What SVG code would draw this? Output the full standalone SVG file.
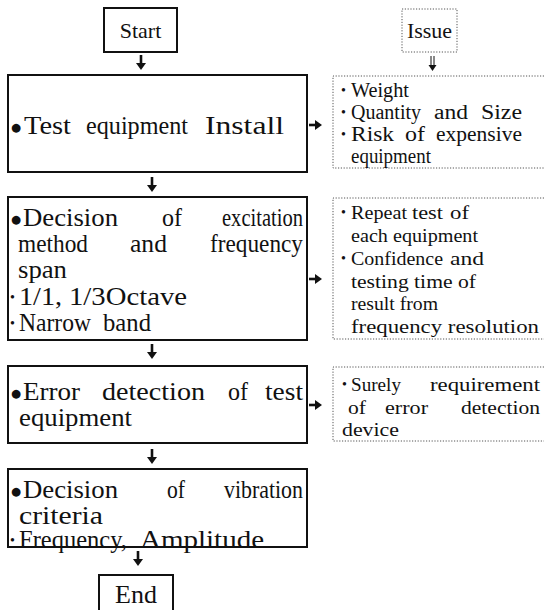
<svg xmlns="http://www.w3.org/2000/svg" width="544" height="610" viewBox="0 0 544 610">
<style>
text{font-family:"Liberation Serif","Times New Roman",serif;fill:#111}
.m{font-size:26px}
.s{font-size:20px}
.t{font-size:18.5px}
.u{font-size:19.5px}
.b{font-size:14px}
.bb{font-family:"DejaVu Sans",sans-serif;font-size:11.5px}
.box{fill:#fff;stroke:#111;stroke-width:2}
.dot{fill:none;stroke:#555;stroke-width:1;stroke-dasharray:1.2 1.6}
.ar{fill:#111;stroke:none}
.stem{stroke:#111;stroke-width:2.6;fill:none}
</style>
<g id="connectors">
  <line class="stem" x1="141" y1="55" x2="141" y2="64"/><polygon class="ar" points="136,63 146,63 141,70"/>
  <line class="stem" x1="152" y1="177" x2="152" y2="186"/><polygon class="ar" points="147,185 157,185 152,192"/>
  <line class="stem" x1="152" y1="344" x2="152" y2="353"/><polygon class="ar" points="147,352 157,352 152,359"/>
  <line class="stem" x1="152" y1="449" x2="152" y2="458"/><polygon class="ar" points="147,457 157,457 152,464"/>
  <line class="stem" x1="138" y1="551" x2="138" y2="560"/><polygon class="ar" points="133,559 143,559 138,566"/>
  <line x1="431" y1="56" x2="431" y2="66" stroke="#111" stroke-width="1"/><line x1="434" y1="56" x2="434" y2="66" stroke="#111" stroke-width="1"/><polygon class="ar" points="428.5,65 436.5,65 432.5,71"/>
  <line x1="309" y1="125" x2="316" y2="125" stroke="#111" stroke-width="2.6"/><polygon class="ar" points="315,120 322,125 315,130"/>
  <line x1="309" y1="279" x2="316" y2="279" stroke="#111" stroke-width="2.6"/><polygon class="ar" points="315,274 322,279 315,284"/>
  <line x1="309" y1="405" x2="316" y2="405" stroke="#111" stroke-width="2.6"/><polygon class="ar" points="315,400 322,405 315,410"/>
</g>
<g id="start">
  <rect class="box" x="104" y="8" width="73" height="44"/>
  <text class="m" style="font-size:22px" x="140.5" y="38" text-anchor="middle">Start</text>
</g>
<g id="issue">
  <rect class="dot" x="402" y="9" width="55" height="43"/>
  <text class="m" style="font-size:22px" x="429.5" y="38" text-anchor="middle">Issue</text>
</g>
<g id="step1">
  <rect class="box" x="8" y="75" width="299" height="97"/>
  <text class="bb" x="11" y="131">●</text>
  <text class="m" x="24" y="134" textLength="47" lengthAdjust="spacingAndGlyphs">Test</text>
  <text class="m" x="86" y="134" textLength="102" lengthAdjust="spacingAndGlyphs">equipment</text>
  <text class="m" x="205" y="134" textLength="79" lengthAdjust="spacingAndGlyphs">Install</text>
</g>
<g id="issue1">
  <path class="dot" d="M544,76 H333 V168 H544"/>
  <text class="b" x="341" y="95">•</text>
  <text class="s" x="351" y="97" textLength="58" lengthAdjust="spacingAndGlyphs">Weight</text>
  <text class="b" x="341" y="117">•</text>
  <text class="s" x="351" y="119" textLength="70" lengthAdjust="spacingAndGlyphs">Quantity</text>
  <text class="s" x="434" y="119" textLength="34" lengthAdjust="spacingAndGlyphs">and</text>
  <text class="s" x="481" y="119" textLength="41" lengthAdjust="spacingAndGlyphs">Size</text>
  <text class="b" x="341" y="139">•</text>
  <text class="s" x="351" y="141" textLength="43" lengthAdjust="spacingAndGlyphs">Risk</text>
  <text class="s" x="405" y="141" textLength="20" lengthAdjust="spacingAndGlyphs">of</text>
  <text class="s" x="436" y="141" textLength="86" lengthAdjust="spacingAndGlyphs">expensive</text>
  <text class="s" x="351" y="163" textLength="80" lengthAdjust="spacingAndGlyphs">equipment</text>
</g>
<g id="step2">
  <rect class="box" x="8" y="197" width="299" height="143"/>
  <text class="bb" x="11" y="223">●</text>
  <text class="m" x="23" y="226" textLength="95" lengthAdjust="spacingAndGlyphs">Decision</text>
  <text class="m" x="162" y="226" textLength="20" lengthAdjust="spacingAndGlyphs">of</text>
  <text class="m" x="222" y="226" textLength="81" lengthAdjust="spacingAndGlyphs">excitation</text>
  <text class="m" x="18" y="252" textLength="70" lengthAdjust="spacingAndGlyphs">method</text>
  <text class="m" x="130" y="252" textLength="37" lengthAdjust="spacingAndGlyphs">and</text>
  <text class="m" x="210" y="252" textLength="93" lengthAdjust="spacingAndGlyphs">frequency</text>
  <text class="m" x="18" y="278" textLength="49" lengthAdjust="spacingAndGlyphs">span</text>
  <text class="b" x="10" y="302">•</text>
  <text class="m" x="19" y="305" textLength="43" lengthAdjust="spacingAndGlyphs">1/1,</text>
  <text class="m" x="69" y="305" textLength="118" lengthAdjust="spacingAndGlyphs">1/3Octave</text>
  <text class="b" x="10" y="328">•</text>
  <text class="m" x="19" y="331" textLength="72" lengthAdjust="spacingAndGlyphs">Narrow</text>
  <text class="m" x="103" y="331" textLength="48" lengthAdjust="spacingAndGlyphs">band</text>
</g>
<g id="issue2">
  <path class="dot" d="M544,198 H333 V339 H544"/>
  <text class="b" x="341" y="217">•</text>
  <text class="t" x="351" y="219" textLength="56" lengthAdjust="spacingAndGlyphs">Repeat</text>
  <text class="t" x="412" y="219" textLength="31" lengthAdjust="spacingAndGlyphs">test</text>
  <text class="t" x="450" y="219" textLength="19" lengthAdjust="spacingAndGlyphs">of</text>
  <text class="t" x="351" y="242" textLength="127" lengthAdjust="spacingAndGlyphs">each equipment</text>
  <text class="b" x="341" y="263">•</text>
  <text class="t" x="351" y="265" textLength="92" lengthAdjust="spacingAndGlyphs">Confidence</text>
  <text class="t" x="450" y="265" textLength="34" lengthAdjust="spacingAndGlyphs">and</text>
  <text class="t" x="351" y="288" textLength="125" lengthAdjust="spacingAndGlyphs">testing time of</text>
  <text class="t" x="351" y="310" textLength="87" lengthAdjust="spacingAndGlyphs">result from</text>
  <text class="t" x="351" y="333" textLength="188" lengthAdjust="spacingAndGlyphs">frequency resolution</text>
</g>
<g id="step3">
  <rect class="box" x="8" y="366" width="299" height="77"/>
  <text class="bb" x="11" y="397">●</text>
  <text class="m" x="23" y="400" textLength="57" lengthAdjust="spacingAndGlyphs">Error</text>
  <text class="m" x="102" y="400" textLength="103" lengthAdjust="spacingAndGlyphs">detection</text>
  <text class="m" x="228" y="400" textLength="20" lengthAdjust="spacingAndGlyphs">of</text>
  <text class="m" x="265" y="400" textLength="38" lengthAdjust="spacingAndGlyphs">test</text>
  <text class="m" x="19" y="426" textLength="113" lengthAdjust="spacingAndGlyphs">equipment</text>
</g>
<g id="issue3">
  <path class="dot" d="M544,367 H333 V441 H544"/>
  <text class="b" x="342" y="389">•</text>
  <text class="u" x="351" y="391" textLength="50" lengthAdjust="spacingAndGlyphs">Surely</text>
  <text class="u" x="430" y="391" textLength="110" lengthAdjust="spacingAndGlyphs">requirement</text>
  <text class="u" x="348" y="414" textLength="18" lengthAdjust="spacingAndGlyphs">of</text>
  <text class="u" x="385" y="414" textLength="43" lengthAdjust="spacingAndGlyphs">error</text>
  <text class="u" x="461" y="414" textLength="79" lengthAdjust="spacingAndGlyphs">detection</text>
  <text class="u" x="342" y="436" textLength="57" lengthAdjust="spacingAndGlyphs">device</text>
</g>
<g id="step4">
  <rect class="box" x="8" y="469" width="299" height="78"/>
  <text class="bb" x="11" y="495">●</text>
  <text class="m" x="23" y="498" textLength="95" lengthAdjust="spacingAndGlyphs">Decision</text>
  <text class="m" x="167" y="498" textLength="18" lengthAdjust="spacingAndGlyphs">of</text>
  <text class="m" x="224" y="498" textLength="79" lengthAdjust="spacingAndGlyphs">vibration</text>
  <text class="m" x="19" y="524" textLength="84" lengthAdjust="spacingAndGlyphs">criteria</text>
  <text class="b" x="10" y="545">•</text>
  <text class="m" x="19" y="548" textLength="108" lengthAdjust="spacingAndGlyphs">Frequency,</text>
  <text class="m" x="140" y="548" textLength="124" lengthAdjust="spacingAndGlyphs">Amplitude</text>
</g>
<g id="end">
  <rect class="box" x="99" y="575" width="74" height="42"/>
  <text class="m" x="136" y="603" text-anchor="middle">End</text>
</g>
</svg>
